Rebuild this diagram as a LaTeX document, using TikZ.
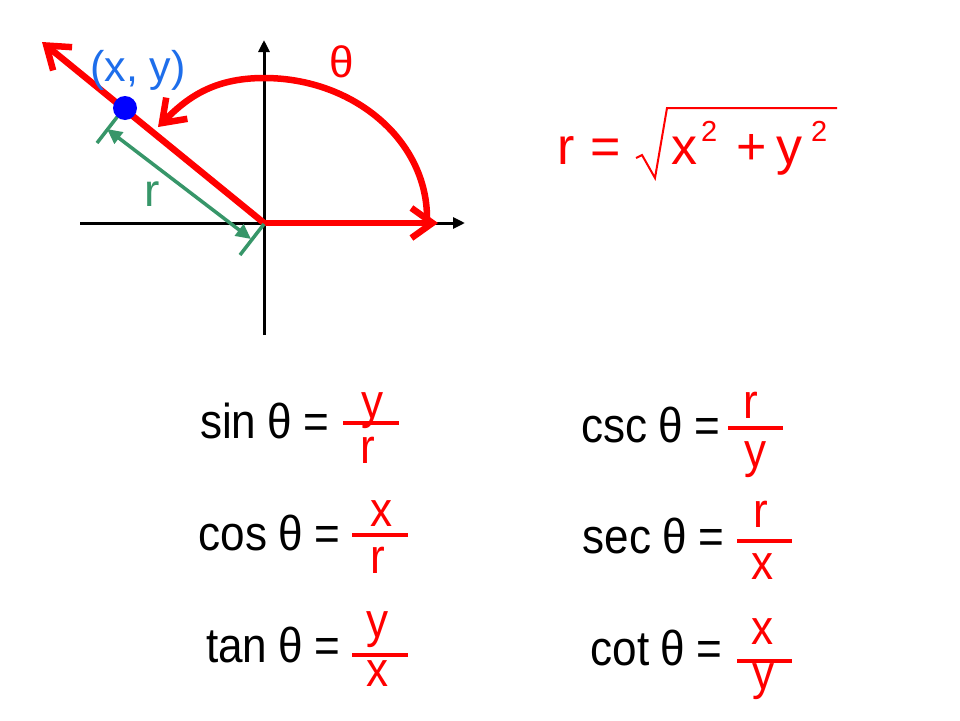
\documentclass[tikz,border=0pt]{standalone}
\usepackage{fontspec}
\setmainfont{Liberation Sans}
\usetikzlibrary{arrows.meta}
\definecolor{myred}{RGB}{255,0,0}
\definecolor{myblue}{RGB}{30,110,235}
\definecolor{mygreen}{RGB}{55,150,105}
\newcommand{\myrow}[1]{\scalebox{0.9}[1]{#1\hspace{0.25em}θ\hspace{0.25em}=}}
\newcommand{\myletter}[1]{\scalebox{0.9}[1]{#1}}
\begin{document}
\begin{tikzpicture}[x=1pt,y=-1pt,
  rowtext/.style={font=\fontsize{49}{58}\selectfont, inner sep=0pt, anchor=base east},
  fracletter/.style={font=\fontsize{49}{58}\selectfont, text=myred, inner sep=0pt, anchor=base},
  fbar/.style={myred, line width=4pt},
  axisline/.style={black, line width=3pt, -{Triangle[length=12pt,width=11pt]}},
  redarrow/.style={myred, line width=6.5pt, line cap=round, -{Straight Barb[length=21pt,width=30pt]}},
  greendim/.style={mygreen, line width=3.5pt, {Triangle[length=15pt,width=14pt]}-{Triangle[length=15pt,width=14pt]}},
  greentick/.style={mygreen, line width=3.5pt}]
\useasboundingbox (0,0) rectangle (960,720);
\fill[white] (0,0) rectangle (960,720);

% axes
\coordinate (O) at (264,223);
\coordinate (xl) at (80,223);
\coordinate (xr) at (465,223);
\coordinate (yb) at (264,335);
\coordinate (yt) at (264,40);
\draw[axisline] (xl) -- (xr);
\draw[axisline] (yb) -- (yt);

% red terminal ray and initial side
\coordinate (T) at (42,42);
\coordinate (H) at (438,223);
\draw[redarrow] (O) -- (T);
\draw[redarrow] (O) -- (H);

% angle arc
\coordinate (arcstart) at (427,218);
\coordinate (arcend) at (158,127);
\draw[redarrow] (arcstart) arc[start angle=0, end angle=-90, x radius=163, y radius=140]
  .. controls (212,78) and (186,99) .. (arcend);

% green dimension r
\coordinate (tA1) at (121,112);
\coordinate (tA2) at (97,143);
\coordinate (tB1) at (264,224);
\coordinate (tB2) at (240,255);
\coordinate (dA) at (107,129);
\coordinate (dB) at (251,239);
\draw[greentick] (tA1) -- (tA2);
\draw[greentick] (tB1) -- (tB2);
\draw[greendim] (dA) -- (dB);

% point
\node[circle, fill=blue, inner sep=0pt, minimum size=24pt] (P) at (125,108) {};

% labels
\node[font=\fontsize{43}{50}\selectfont, text=myblue, inner sep=0pt, anchor=base west] (xy) at (90,81) {(x, y)};
\node[font=\fontsize{44}{50}\selectfont, text=myred, inner sep=0pt, anchor=base] (theta) at (342,77) {θ};
\node[font=\fontsize{46}{52}\selectfont, text=mygreen, inner sep=0pt, anchor=base] (rlab) at (152,206) {r};

% r = sqrt(x^2 + y^2)
\node[font=\fontsize{52}{60}\selectfont, text=myred, inner sep=0pt, anchor=base west] (req) at (557,164) {r\hspace{0.3em}=};
\coordinate (s1) at (636,158);
\coordinate (s2) at (642,155);
\coordinate (s3) at (655,178);
\coordinate (s4) at (667,108);
\coordinate (s5) at (837,108);
\draw[myred, line width=2pt, line join=miter] (s1) -- (s2) -- (s3) -- (s4) -- (s5);
\node[font=\fontsize{52}{60}\selectfont, text=myred, inner sep=0pt, anchor=base west] (fx) at (671,164) {x};
\node[font=\fontsize{29}{32}\selectfont, text=myred, inner sep=0pt, anchor=base west] (fx2) at (701,141) {2};
\node[font=\fontsize{52}{60}\selectfont, text=myred, inner sep=0pt, anchor=base west] (fplus) at (736,164) {+};
\node[font=\fontsize{52}{60}\selectfont, text=myred, inner sep=0pt, anchor=base west] (fy) at (776,164) {y};
\node[font=\fontsize{29}{32}\selectfont, text=myred, inner sep=0pt, anchor=base west] (fy2) at (811,141) {2};

% left column
\node[rowtext] (sinL) at (329,438) {\myrow{sin}};
\draw[fbar] (343,423) -- (399,423);
\node[fracletter] (sinN) at (373,418) {\myletter{y}};
\node[fracletter] (sinD) at (368,463) {\myletter{r}};

\node[rowtext] (cosL) at (340,550) {\myrow{cos}};
\draw[fbar] (352,535) -- (408,535);
\node[fracletter] (cosN) at (382,526) {\myletter{x}};
\node[fracletter] (cosD) at (378,573) {\myletter{r}};

\node[rowtext] (tanL) at (340,662) {\myrow{tan}};
\draw[fbar] (352,655) -- (408,655);
\node[fracletter] (tanN) at (378,637) {\myletter{y}};
\node[fracletter] (tanD) at (378,686) {\myletter{x}};

% right column
\node[rowtext] (cscL) at (720,442) {\myrow{csc}};
\draw[fbar] (728,428) -- (783,428);
\node[fracletter] (cscN) at (751,418) {\myletter{r}};
\node[fracletter] (cscD) at (756,467) {\myletter{y}};

\node[rowtext] (secL) at (724,553) {\myrow{sec}};
\draw[fbar] (737,541) -- (792,541);
\node[fracletter] (secN) at (761,527) {\myletter{r}};
\node[fracletter] (secD) at (763,579) {\myletter{x}};

\node[rowtext] (cotL) at (722,665) {\myrow{cot}};
\draw[fbar] (737,661) -- (792,661);
\node[fracletter] (cotN) at (763,644) {\myletter{x}};
\node[fracletter] (cotD) at (764,689) {\myletter{y}};
\end{tikzpicture}
\end{document}
